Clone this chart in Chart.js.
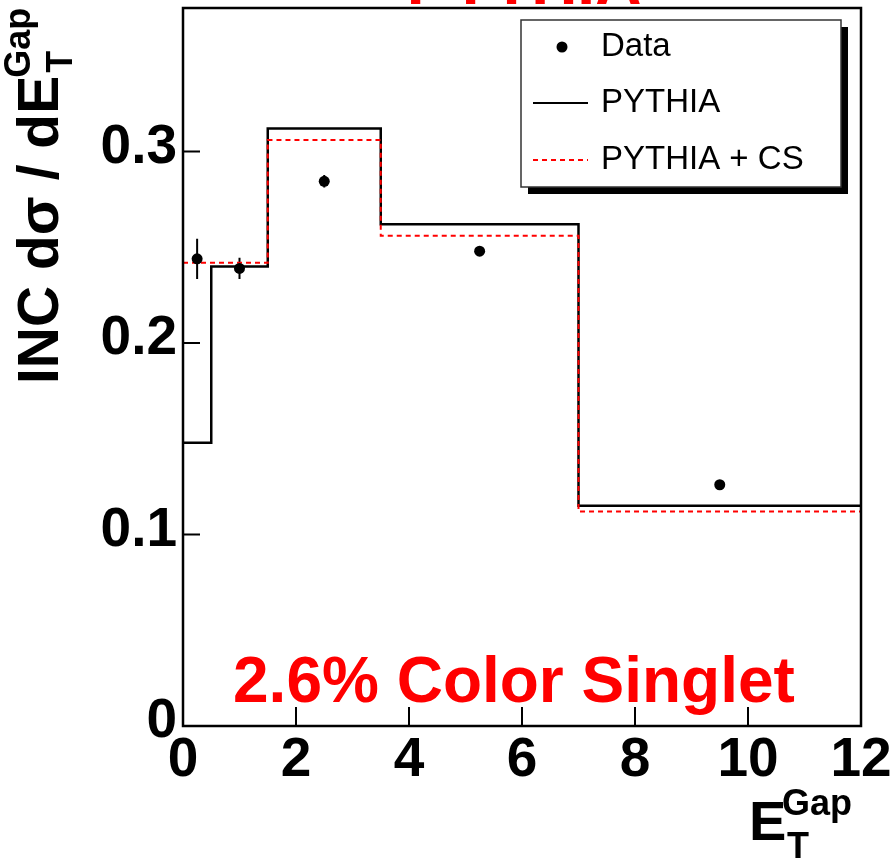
<!DOCTYPE html>
<html>
<head>
<meta charset="utf-8">
<script src="https://cdn.jsdelivr.net/npm/chart.js@4.4.1/dist/chart.umd.min.js"></script>
<style>
  html, body { margin: 0; padding: 0; background: #fff; }
  canvas { display: block; }
</style>
</head>
<body>
<canvas id="chart" width="895" height="859"></canvas>
<script>
// values
const binEdges = [0, 0.5, 1.5, 3.5, 7, 12];
const pythia   = [0.148, 0.240, 0.312, 0.262, 0.115];
const pythiaCS = [0.242, 0.242, 0.306, 0.256, 0.112];
const dataX    = [0.25, 1.0, 2.5, 5.25, 9.5];
const dataY    = [0.244, 0.239, 0.2845, 0.248, 0.126];
const dataErr  = [0.0105, 0.0055, 0.0033, 0.002, 0.002];
const xTicks   = [0, 2, 4, 6, 8, 10, 12];
const yTicks   = [0, 0.1, 0.2, 0.3];

const FONT = "'Liberation Sans', Arial, Helvetica, sans-serif";
const RED = '#ff0000';

// histogram -> step points (left edge of each bin + closing right edge)
function histPoints(vals) {
    const pts = vals.map((v, i) => ({ x: binEdges[i], y: v }));
    pts.push({ x: binEdges[binEdges.length - 1], y: vals[vals.length - 1] });
    return pts;
}

// frame, inward ticks, error bars, legend box and the text labels
const decor = {
    id: 'decor',
    beforeDatasetsDraw(chart) {
        const { ctx, scales: { x, y } } = chart;
        ctx.save();
        ctx.strokeStyle = '#000';
        ctx.lineWidth = 2;
        ctx.beginPath();
        dataX.forEach((v, i) => {
            const px = x.getPixelForValue(v);
            ctx.moveTo(px, y.getPixelForValue(dataY[i] - dataErr[i]));
            ctx.lineTo(px, y.getPixelForValue(dataY[i] + dataErr[i]));
        });
        ctx.stroke();
        ctx.restore();
    },
    afterDraw(chart) {
        const { ctx, chartArea: a, scales: { x, y } } = chart;
        ctx.save();

        // frame
        ctx.strokeStyle = '#000';
        ctx.lineWidth = 2.5;
        ctx.strokeRect(a.left, a.top, a.right - a.left, a.bottom - a.top);

        // ticks pointing into the plot
        ctx.lineWidth = 2;
        ctx.beginPath();
        xTicks.forEach(v => {
            const px = x.getPixelForValue(v);
            ctx.moveTo(px, a.bottom);
            ctx.lineTo(px, a.bottom - 19);
        });
        yTicks.forEach(v => {
            const py = y.getPixelForValue(v);
            ctx.moveTo(a.left, py);
            ctx.lineTo(a.left + 17, py);
        });
        ctx.stroke();

        // legend with drop shadow
        const lx = 521, ly = 20, lw = 320, lh = 167;
        ctx.fillStyle = '#000';
        ctx.fillRect(lx + 7, ly + 7, lw, lh);
        ctx.fillStyle = '#fff';
        ctx.fillRect(lx, ly, lw, lh);
        ctx.strokeStyle = '#333';
        ctx.lineWidth = 1.5;
        ctx.strokeRect(lx, ly, lw, lh);

        const ds = chart.data.datasets;
        const rows = [ds[0], ds[2], ds[1]];
        const rowY = [47, 103, 160];
        ctx.font = '33px ' + FONT;
        ctx.textAlign = 'left';
        ctx.textBaseline = 'middle';
        rows.forEach((d, i) => {
            const ry = rowY[i];
            if (d.showLine === false) {
                ctx.fillStyle = '#000';
                ctx.beginPath();
                ctx.arc(562, ry, 5.5, 0, Math.PI * 2);
                ctx.fill();
            } else {
                ctx.strokeStyle = d.borderColor;
                ctx.lineWidth = 2;
                ctx.setLineDash(d.borderDash || []);
                ctx.beginPath();
                ctx.moveTo(533, ry);
                ctx.lineTo(588, ry);
                ctx.stroke();
                ctx.setLineDash([]);
            }
            ctx.fillStyle = '#000';
            ctx.fillText(d.label, 601, ry);
        });

        // red labels
        ctx.fillStyle = RED;
        ctx.font = 'bold 64px ' + FONT;
        ctx.textBaseline = 'alphabetic';
        ctx.textAlign = 'center';
        ctx.fillText('PYTHIA', 524, 4);
        ctx.textAlign = 'left';
        ctx.fillText('2.6% Color Singlet', 233, 702);

        // x axis title  E_T^Gap
        ctx.fillStyle = '#000';
        ctx.font = 'bold 56px ' + FONT;
        ctx.fillText('E', 749, 840);
        ctx.font = 'bold 36px ' + FONT;
        ctx.fillText('T', 787, 858);
        ctx.fillText('Gap', 782, 815);

        // y axis title, rotated
        ctx.translate(58, 384);
        ctx.rotate(-Math.PI / 2);
        ctx.font = 'bold 57px ' + FONT;
        const main = 'INC d\u03c3 / dE';
        ctx.fillText(main, 0, 0);
        const w = ctx.measureText(main).width;
        ctx.font = 'bold 36px ' + FONT;
        ctx.fillText('T', w + 3, 14);
        ctx.fillText('Gap', w - 2, -28);

        ctx.restore();
    }
};

const tickFont = { family: FONT, size: 55, weight: 'bold' };

new Chart(document.getElementById('chart'), {
    type: 'line',
    data: {
        datasets: [
            {
                label: 'Data',
                type: 'scatter',
                data: dataX.map((v, i) => ({ x: v, y: dataY[i] })),
                showLine: false,
                pointRadius: 5.5,
                pointBackgroundColor: '#000',
                pointBorderWidth: 0
            },
            {
                label: 'PYTHIA + CS',
                data: histPoints(pythiaCS),
                stepped: 'before',
                borderColor: RED,
                borderWidth: 2,
                borderDash: [5, 4],
                pointRadius: 0,
                fill: false
            },
            {
                label: 'PYTHIA',
                data: histPoints(pythia),
                stepped: 'before',
                borderColor: '#000',
                borderWidth: 2.5,
                pointRadius: 0,
                fill: false
            }
        ]
    },
    options: {
        responsive: false,
        animation: false,
        layout: { padding: { top: 8, right: 34, bottom: 0, left: 0 } },
        plugins: {
            legend: { display: false },
            tooltip: { enabled: false }
        },
        scales: {
            x: {
                type: 'linear',
                min: 0,
                max: 12,
                afterBuildTicks: s => { s.ticks = xTicks.map(v => ({ value: v })); },
                afterFit: s => { s.height = 133; s.paddingLeft = 0; s.paddingRight = 0; },
                grid: { display: false, drawTicks: false },
                border: { display: false },
                ticks: { font: tickFont, color: '#000', padding: 2, maxRotation: 0, autoSkip: false }
            },
            y: {
                type: 'linear',
                min: 0,
                max: 0.375,
                afterBuildTicks: s => { s.ticks = yTicks.map(v => ({ value: v })); },
                afterFit: s => { s.width = 183; s.paddingTop = 0; s.paddingBottom = 0; },
                grid: { display: false, drawTicks: false },
                border: { display: false },
                ticks: {
                    font: tickFont,
                    color: '#000',
                    padding: 6,
                    labelOffset: -4,
                    autoSkip: false,
                    callback: v => v === 0 ? '0' : v.toFixed(1)
                }
            }
        }
    },
    plugins: [decor]
});
</script>
</body>
</html>
